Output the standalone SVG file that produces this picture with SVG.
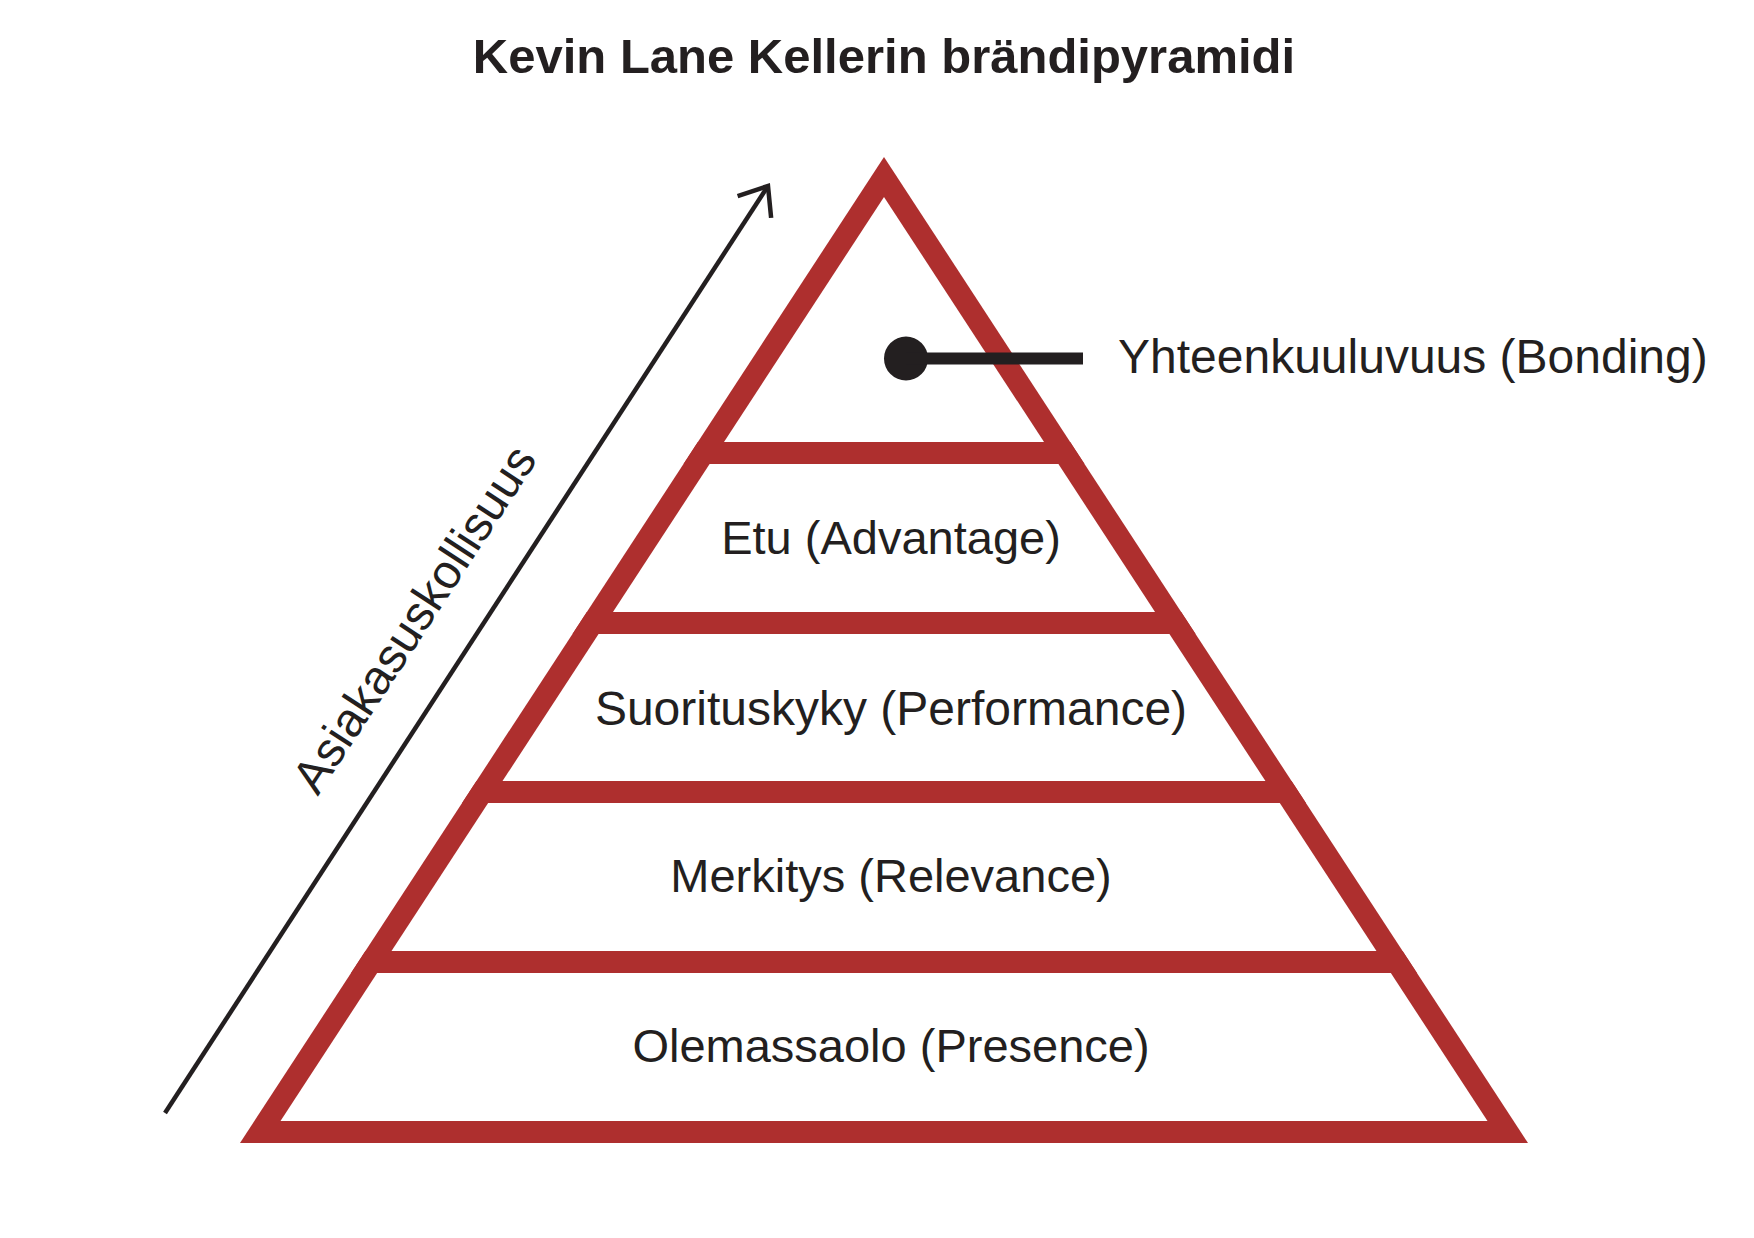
<svg xmlns="http://www.w3.org/2000/svg" width="1754" height="1238" viewBox="0 0 1754 1238">
  <style>
    .title { font-family: "Liberation Sans", Arial, sans-serif; font-weight: bold; font-size: 49px; fill: #231f20; }
    .label { font-family: "Liberation Sans", Arial, sans-serif; font-size: 47px; fill: #231f20; }
    .red { fill: #ae2f2e; }
    .band { fill: #ae2f2e; }
    .ink { fill: #231f20; }
    .axis { stroke: #231f20; stroke-width: 4.5; fill: none; }
  </style>
  <defs>
    <clipPath id="outerClip">
      <polygon points="884,157 240,1143 1528,1143"/>
    </clipPath>
    <marker id="chevron" markerUnits="userSpaceOnUse" markerWidth="60" markerHeight="60" viewBox="-40 -30 50 60" refX="0" refY="0" orient="auto">
      <path d="M-25,-20 L0,0 L-25,20" fill="none" stroke="#231f20" stroke-width="4.5" stroke-linejoin="miter"/>
    </marker>
  </defs>
  <rect width="1754" height="1238" fill="#ffffff"/>

  <g id="title">
    <text class="title" x="884" y="73" text-anchor="middle">Kevin Lane Kellerin brändipyramidi</text>
  </g>

  <g id="pyramid">
    <polygon class="red" points="884,157 240,1143 1528,1143"/>
    <polygon fill="#ffffff" points="884,197 280.5,1121 1487.5,1121"/>
    <g clip-path="url(#outerClip)">
      <rect class="band" x="600" y="442" width="600" height="22"/>
      <rect class="band" x="500" y="612" width="800" height="22"/>
      <rect class="band" x="400" y="781" width="1000" height="22"/>
      <rect class="band" x="300" y="951" width="1200" height="22"/>
    </g>
  </g>

  <g id="layer-bonding">
    <circle class="ink" cx="906" cy="358.5" r="22"/>
    <rect class="ink" x="906" y="352.5" width="177" height="12"/>
    <text class="label" x="1118" y="373" style="font-size:48px">Yhteenkuuluvuus (Bonding)</text>
  </g>

  <g id="layer-advantage">
    <text class="label" x="891" y="554" text-anchor="middle">Etu (Advantage)</text>
  </g>

  <g id="layer-performance">
    <text class="label" x="891" y="725" text-anchor="middle" style="font-size:48px">Suorituskyky (Performance)</text>
  </g>

  <g id="layer-relevance">
    <text class="label" x="891" y="892" text-anchor="middle">Merkitys (Relevance)</text>
  </g>

  <g id="layer-presence">
    <text class="label" x="891" y="1062" text-anchor="middle">Olemassaolo (Presence)</text>
  </g>

  <g id="connectors">
    <line class="axis" x1="165" y1="1113" x2="768" y2="186" marker-end="url(#chevron)"/>
  </g>

  <g id="axis-label">
    <text class="label" x="428" y="628" text-anchor="middle" transform="rotate(-56.85 428 628)" style="font-size:48px">Asiakasuskollisuus</text>
  </g>
</svg>
